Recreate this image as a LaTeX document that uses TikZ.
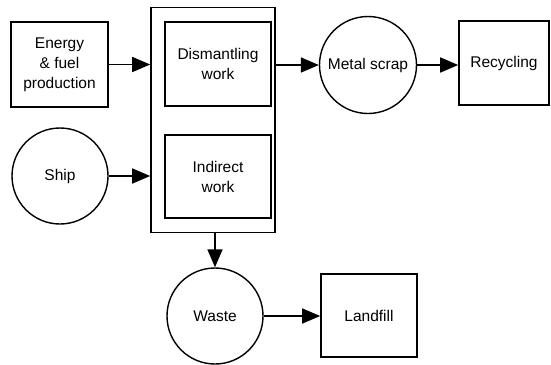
\documentclass[tikz,border=0pt]{standalone}
\usepackage{fontspec}
\setmainfont{Liberation Sans}
\usetikzlibrary{arrows.meta}
\tikzset{
  box/.style={draw, line width=1.6pt, rectangle, inner sep=0pt, align=center},
  circ/.style={draw, line width=1.4pt, circle, inner sep=0pt, minimum size=96pt, align=center},
  arr/.style={line width=1.5pt, -{Triangle[length=18pt,width=15pt]}}
}
\begin{document}
\begin{tikzpicture}[x=1pt,y=-1pt,font=\fontsize{15.5}{20}\selectfont]
\useasboundingbox (0,0) rectangle (551,364);
\node[box, minimum width=97pt, minimum height=85pt] (energy) at (59.5,64.5) {Energy\\\& fuel\\production};
\node[box, minimum width=124pt, minimum height=225pt] (outer) at (213,120) {};
\node[box, minimum width=106pt, minimum height=84pt] (dism) at (218,64) {Dismantling\\work};
\node[box, minimum width=106pt, minimum height=83pt] (indirect) at (218,176.5) {Indirect\\work};
\node[circ] (ship) at (60,176) {Ship};
\node[circ, minimum size=97pt] (metal) at (368,65) {Metal scrap};
\node[box, minimum width=90pt, minimum height=84pt] (recycle) at (504,63) {Recycling};
\node[circ] (waste) at (215,316) {Waste};
\node[box, minimum width=96pt, minimum height=83pt] (landfill) at (369,315.5) {Landfill};
\draw[arr] (energy.east) -- (energy.east -| outer.west);
\draw[arr] (ship.east) -- (ship.east -| outer.west);
\draw[arr] (outer.east |- metal.west) -- (metal.west);
\draw[arr] (metal.east) -- (recycle.west |- metal.east);
\draw[arr] (outer.south -| waste.north) -- (waste.north);
\draw[arr] (waste.east) -- (landfill.west |- waste.east);
\end{tikzpicture}
\end{document}
